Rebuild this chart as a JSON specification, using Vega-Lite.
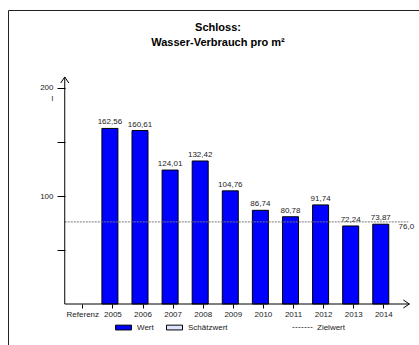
{
  "$schema": "https://vega.github.io/schema/vega-lite/v6.json",
  "width": 420,
  "height": 340,
  "autosize": "none",
  "padding": {"left": 8, "top": 10, "right": 0, "bottom": 0},
  "background": "white",
  "title": {
    "text": ["Schloss:", "Wasser-Verbrauch pro m²"],
    "anchor": "middle",
    "frame": "group",
    "offset": -38,
    "fontSize": 11,
    "fontWeight": "bold",
    "font": "Liberation Sans",
    "lineHeight": 15,
    "color": "#000"
  },
  "config": {
    "view": {"stroke": "#222", "strokeWidth": 1, "fill": "white"},
    "font": "Liberation Sans",
    "locale": {"number": {"decimal": ",", "thousands": ".", "grouping": [3], "currency": ["", " €"]}},
    "axis": {"labelFont": "Liberation Sans", "labelFontSize": 8, "labelColor": "#222", "tickColor": "#000", "grid": false, "domain": false},
    "legend": {"labelFont": "Liberation Sans", "labelFontSize": 8, "labelColor": "#222"}
  },
  "data": {
    "values": [
      {"Jahr": 2005, "Wert": 162.56, "Typ": "Wert"},
      {"Jahr": 2006, "Wert": 160.61, "Typ": "Wert"},
      {"Jahr": 2007, "Wert": 124.01, "Typ": "Wert"},
      {"Jahr": 2008, "Wert": 132.42, "Typ": "Wert"},
      {"Jahr": 2009, "Wert": 104.76, "Typ": "Wert"},
      {"Jahr": 2010, "Wert": 86.74, "Typ": "Wert"},
      {"Jahr": 2011, "Wert": 80.78, "Typ": "Wert"},
      {"Jahr": 2012, "Wert": 91.74, "Typ": "Wert"},
      {"Jahr": 2013, "Wert": 72.24, "Typ": "Wert"},
      {"Jahr": 2014, "Wert": 73.87, "Typ": "Wert"}
    ]
  },
  "layer": [
    {
      "mark": {"type": "bar", "size": 16, "stroke": "#000", "strokeWidth": 1, "xOffset": -2.5},
      "encoding": {
        "x": {
          "field": "Jahr", "type": "quantitative",
          "scale": {"domain": [2001.697, 2015.32], "nice": false, "zero": false},
          "axis": {
            "orient": "bottom", "offset": -46,
            "values": [2004, 2005, 2006, 2007, 2008, 2009, 2010, 2011, 2012, 2013, 2014],
            "labelExpr": "datum.value == 2004 ? 'Referenz' : '' + datum.value",
            "tickSize": 4, "labelPadding": 2, "title": null,
            "labelFlush": false, "labelOverlap": false
          }
        },
        "y": {
          "field": "Wert", "type": "quantitative",
          "scale": {"domain": [-42.59, 272.22], "nice": false, "zero": false},
          "axis": {
            "orient": "left", "offset": -57,
            "values": [50, 100, 150, 200],
            "labelExpr": "datum.value == 100 || datum.value == 200 ? '' + datum.value : ''",
            "tickSize": 8, "labelPadding": 4,
            "title": "l", "titleAngle": 0, "titleX": -13, "titleY": 88,
            "titleFontSize": 8, "titleFontWeight": "normal", "titleAlign": "center",
            "titleBaseline": "middle", "titleColor": "#222", "titleFont": "Liberation Sans"
          }
        },
        "fill": {
          "field": "Typ", "type": "nominal",
          "scale": {"domain": ["Wert", "Schätzwert"], "range": ["#0000ff", "#dfe3ff"]},
          "legend": {
            "orient": "none", "legendX": 107, "legendY": 309,
            "direction": "horizontal", "title": null,
            "symbolType": "M-1,-0.3H1V0.3H-1Z", "symbolSize": 256,
            "symbolStrokeColor": "#000", "symbolStrokeWidth": 1,
            "columnPadding": 10, "labelOffset": 5
          }
        }
      }
    },
    {
      "mark": {"type": "text", "baseline": "bottom", "dy": -2, "fontSize": 8, "color": "#222", "xOffset": -2.5},
      "encoding": {
        "x": {"field": "Jahr", "type": "quantitative"},
        "y": {"field": "Wert", "type": "quantitative"},
        "text": {"field": "Wert", "type": "quantitative", "format": ".2f"}
      }
    },
    {
      "data": {"values": [{"Name": "Zielwert", "Ziel": 76.0}]},
      "mark": {"type": "rule", "stroke": "#777", "strokeWidth": 1},
      "encoding": {
        "x": {"datum": 2003.416, "type": "quantitative"},
        "x2": {"datum": 2014.833},
        "y": {"field": "Ziel", "type": "quantitative"},
        "strokeDash": {
          "field": "Name", "type": "nominal",
          "scale": {"range": [[2, 1]]},
          "legend": {
            "orient": "none", "legendX": 284, "legendY": 307,
            "title": null, "symbolType": "stroke", "symbolSize": 400,
            "symbolStrokeColor": "#666", "symbolStrokeWidth": 1, "labelOffset": 4
          }
        }
      }
    },
    {
      "data": {"values": [{"Name": "Zielwert", "Ziel": 76.0}]},
      "mark": {"type": "text", "align": "left", "baseline": "middle", "dy": 5, "fontSize": 8, "color": "#222"},
      "encoding": {
        "x": {"datum": 2014.51, "type": "quantitative"},
        "y": {"field": "Ziel", "type": "quantitative"},
        "text": {"field": "Ziel", "type": "quantitative", "format": ".1f"}
      }
    },
    {
      "data": {"values": [{}]},
      "mark": {"type": "rule", "stroke": "#000", "strokeWidth": 1},
      "encoding": {
        "x": {"datum": 2003.416, "type": "quantitative"},
        "y": {"datum": 0, "type": "quantitative"},
        "y2": {"datum": 210.2}
      }
    },
    {
      "data": {"values": [{}]},
      "mark": {"type": "rule", "stroke": "#000", "strokeWidth": 1},
      "encoding": {
        "x": {"datum": 2003.416, "type": "quantitative"},
        "x2": {"datum": 2014.866},
        "y": {"datum": 0, "type": "quantitative"}
      }
    },
    {
      "data": {"values": [{}]},
      "mark": {"type": "point", "shape": "M-0.67,1L0,0L0.67,1", "size": 144, "filled": false, "stroke": "#000", "strokeWidth": 1, "opacity": 1},
      "encoding": {
        "x": {"datum": 2003.416, "type": "quantitative"},
        "y": {"datum": 210.2, "type": "quantitative"}
      }
    },
    {
      "data": {"values": [{}]},
      "mark": {"type": "point", "shape": "M-1,-0.67L0,0L-1,0.67", "size": 144, "filled": false, "stroke": "#000", "strokeWidth": 1, "opacity": 1},
      "encoding": {
        "x": {"datum": 2014.866, "type": "quantitative"},
        "y": {"datum": 0, "type": "quantitative"}
      }
    }
  ]
}
